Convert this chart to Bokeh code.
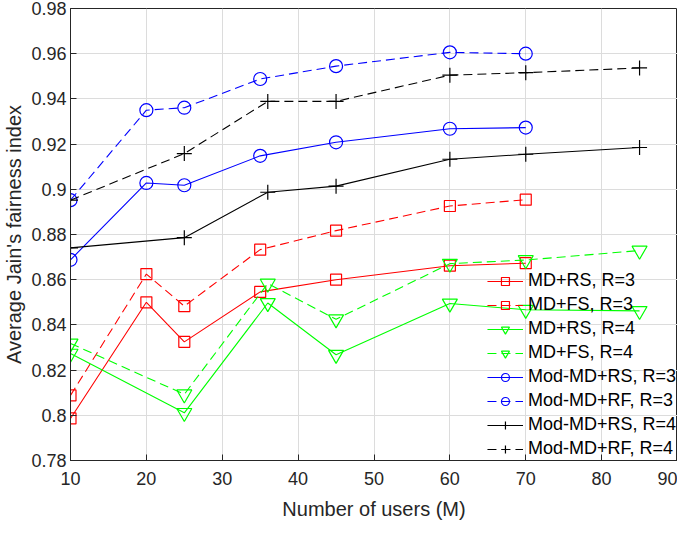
from bokeh.plotting import figure
from bokeh.models import FixedTicker, Range1d, Legend
from bokeh.embed import file_html
from bokeh.resources import INLINE

# ---- data ----
x_r3 = [10, 20, 25, 35, 45, 60, 70]
x_r4 = [10, 25, 36, 45, 60, 70, 85]

md_rs_r3 = [0.7986, 0.850, 0.8325, 0.8546, 0.860, 0.8662, 0.8673]
md_fs_r3 = [0.8088, 0.8625, 0.8483, 0.8733, 0.8817, 0.8926, 0.8954]
md_rs_r4 = [0.8273, 0.8011, 0.8497, 0.8268, 0.8495, 0.8467, 0.8462]
md_fs_r4 = [0.8318, 0.8093, 0.8583, 0.8425, 0.8671, 0.8687, 0.8729]
mod_rs_r3 = [0.8688, 0.9028, 0.9018, 0.9148, 0.9208, 0.9268, 0.9273]
mod_rf_r3 = [0.8952, 0.935, 0.9361, 0.9488, 0.9545, 0.9606, 0.960]
mod_rs_r4 = [0.8741, 0.8786, 0.8987, 0.9014, 0.9133, 0.9155, 0.9185]
mod_rf_r4 = [0.8952, 0.9158, 0.9389, 0.9389, 0.9505, 0.9516, 0.9537]

x_ticks = [10, 20, 30, 40, 50, 60, 70, 80, 90]
y_ticks = [0.78, 0.80, 0.82, 0.84, 0.86, 0.88, 0.90, 0.92, 0.94, 0.96, 0.98]
y_tick_labels = ["0.78", "0.8", "0.82", "0.84", "0.86", "0.88", "0.9", "0.92", "0.94", "0.96", "0.98"]

labels = ["MD+RS, R=3", "MD+FS, R=3", "MD+RS, R=4", "MD+FS, R=4",
          "Mod-MD+RS, R=3", "Mod-MD+RF, R=3", "Mod-MD+RS, R=4", "Mod-MD+RF, R=4"]

FONT = "Liberation Sans"
TXT = "#262626"

p = figure(width=677, height=522, output_backend="svg", toolbar_location=None,
           x_range=Range1d(10, 90), y_range=Range1d(0.78, 0.98),
           min_border_left=62, min_border_right=0, min_border_top=8, min_border_bottom=56)
p.background_fill_color = "white"
p.outline_line_color = TXT
p.outline_line_width = 1

for ax in (p.xaxis[0], p.yaxis[0]):
    ax.axis_line_color = TXT
    ax.major_tick_line_color = TXT
    ax.major_tick_in = 6
    ax.major_tick_out = 0
    ax.minor_tick_line_color = None
    ax.major_label_text_font = FONT
    ax.major_label_text_font_size = "18px"
    ax.major_label_text_color = TXT
    ax.axis_label_text_font = FONT
    ax.axis_label_text_font_size = "20px"
    ax.axis_label_text_font_style = "normal"
    ax.axis_label_text_color = TXT

p.xaxis.ticker = FixedTicker(ticks=x_ticks)
p.yaxis.ticker = FixedTicker(ticks=y_ticks)
p.yaxis.major_label_overrides = {v: s for v, s in zip(y_ticks, y_tick_labels)}
p.xaxis.axis_label = "Number of users (M)"
p.yaxis.axis_label = "Average Jain's fairness index"
p.xaxis.major_label_standoff = 11
p.xaxis.axis_label_standoff = 10
p.yaxis.major_label_standoff = 4
p.yaxis.axis_label_standoff = 3

p.xgrid.grid_line_color = "#dcdcdc"
p.ygrid.grid_line_color = "#dcdcdc"

series = [
    (x_r3, md_rs_r3, "#ff0000", "solid", "square", 11),
    (x_r3, md_fs_r3, "#ff0000", "9 5", "square", 11),
    (x_r4, md_rs_r4, "#00ff00", "solid", "inverted_triangle", 15),
    (x_r4, md_fs_r4, "#00ff00", "9 5", "inverted_triangle", 15),
    (x_r3, mod_rs_r3, "#0000ff", "solid", "circle", 13),
    (x_r3, mod_rf_r3, "#0000ff", "9 5", "circle", 13),
    (x_r4, mod_rs_r4, "#000000", "solid", "cross", 15),
    (x_r4, mod_rf_r4, "#000000", "9 5", "cross", 15),
]

items = []
for (xs, ys, col, dash, mk, sz), lab in zip(series, labels):
    l = p.line(xs, ys, line_color=col, line_width=1.1, line_dash=dash)
    s = p.scatter(xs, ys, marker=mk, size=sz, line_color=col, fill_color=None, line_width=1.2)
    items.append((lab, [l, s]))

legend = Legend(items=items, location="bottom_right")
legend.label_text_font = FONT
legend.label_text_font_size = "18px"
legend.label_text_color = "#000000"
legend.glyph_width = 36
legend.glyph_height = 20
legend.label_height = 20
legend.spacing = 3
legend.label_standoff = 5
legend.padding = 1
legend.margin = 0
legend.border_line_alpha = 0
legend.background_fill_alpha = 0
p.add_layout(legend)

open("out.html", "w").write(file_html(p, INLINE))
